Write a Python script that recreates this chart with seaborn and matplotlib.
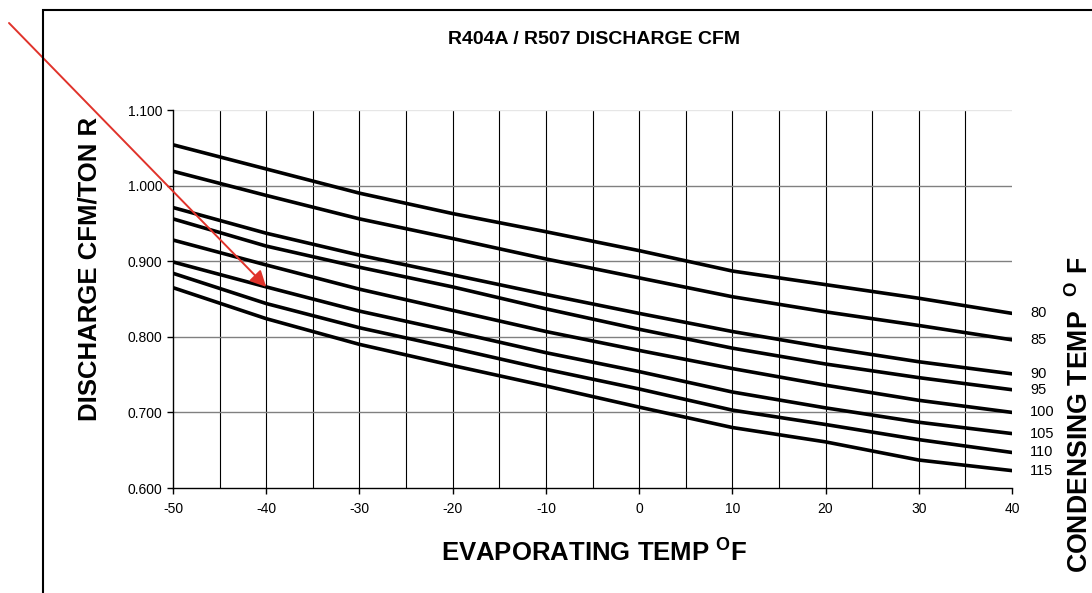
import numpy as np
import pandas as pd
import matplotlib
matplotlib.use("Agg")
import matplotlib.pyplot as plt
import matplotlib.patches as patches
import seaborn as sns

# evaporating temp (F) and discharge CFM/ton per condensing temp
EVAP_TEMP = [-50, -40, -30, -20, -10, 0, 10, 20, 30, 40]
COND_TEMPS = [80, 85, 90, 95, 100, 105, 110, 115]
CFM_80 = [1.054, 1.022, 0.990, 0.963, 0.939, 0.914, 0.887, 0.869, 0.851, 0.831]
CFM_85 = [1.019, 0.987, 0.956, 0.930, 0.903, 0.878, 0.853, 0.833, 0.815, 0.796]
CFM_90 = [0.971, 0.937, 0.908, 0.882, 0.856, 0.831, 0.807, 0.786, 0.767, 0.751]
CFM_95 = [0.956, 0.920, 0.892, 0.866, 0.837, 0.810, 0.785, 0.764, 0.746, 0.730]
CFM_100 = [0.928, 0.895, 0.863, 0.835, 0.807, 0.782, 0.758, 0.736, 0.716, 0.700]
CFM_105 = [0.899, 0.866, 0.834, 0.807, 0.779, 0.754, 0.727, 0.706, 0.687, 0.672]
CFM_110 = [0.884, 0.844, 0.812, 0.785, 0.757, 0.731, 0.703, 0.684, 0.664, 0.647]
CFM_115 = [0.865, 0.824, 0.790, 0.762, 0.735, 0.707, 0.680, 0.661, 0.637, 0.623]
ALL_CFM = [CFM_80, CFM_85, CFM_90, CFM_95, CFM_100, CFM_105, CFM_110, CFM_115]

X_TICKS = [-50, -40, -30, -20, -10, 0, 10, 20, 30, 40]
Y_TICKS = [0.6, 0.7, 0.8, 0.9, 1.0, 1.1]

sns.set_style("white")
plt.rcParams['font.family'] = ['Liberation Sans', 'DejaVu Sans']
plt.rcParams['text.color'] = 'black'
plt.rcParams['axes.unicode_minus'] = False
plt.rcParams['mathtext.fontset'] = 'custom'
plt.rcParams['mathtext.rm'] = 'Liberation Sans:bold'
plt.rcParams['mathtext.bf'] = 'Liberation Sans:bold'

rows = []
for t, vals in zip(COND_TEMPS, ALL_CFM):
    for x, v in zip(EVAP_TEMP, vals):
        rows.append({"evap": x, "cfm": v, "cond": str(t)})
df = pd.DataFrame(rows)

fig = plt.figure(figsize=(10.92, 5.93), dpi=100)
ax = fig.add_axes([173 / 1092, 1 - 488 / 593, (1012 - 173) / 1092, (488 - 110) / 593])

# grid first so curves sit on top
for gx in range(-45, 40, 5):
    ax.axvline(gx, color="black", lw=0.8, zorder=1)
for gy in [0.7, 0.8, 0.9, 1.0]:
    ax.axhline(gy, color="#808080", lw=1.0, zorder=1)
ax.axhline(1.1, color="#e6e6e6", lw=1.0, zorder=1)

sns.lineplot(data=df, x="evap", y="cfm", hue="cond",
             palette=["black"] * len(COND_TEMPS), linewidth=2.6,
             legend=False, ax=ax, zorder=3)

for t, vals in zip(COND_TEMPS, ALL_CFM):
    ax.annotate(str(t), xy=(EVAP_TEMP[-1], vals[-1]), xytext=(13, 0),
                textcoords="offset points", va="center", ha="left",
                fontsize=10.5, color="black", annotation_clip=False)

ax.set_xlim(-50, 40)
ax.set_ylim(0.6, 1.1)
ax.set_xticks(X_TICKS)
ax.set_yticks(Y_TICKS)
ax.set_yticklabels([f"{v:.3f}" for v in Y_TICKS])
ax.tick_params(axis="both", direction="out", length=4, width=1,
               labelsize=10, colors="black", left=True, bottom=True)
ax.tick_params(axis="x", pad=6)
for s in ["top", "right"]:
    ax.spines[s].set_visible(False)
for s in ["left", "bottom"]:
    ax.spines[s].set_color("black")
    ax.spines[s].set_linewidth(1.0)
ax.set_xlabel("")
ax.set_ylabel("")

fig.text(594 / 1092, 1 - 40 / 593, "R404A / R507 DISCHARGE CFM",
         ha="center", va="center", fontsize=14, fontweight="bold")
fig.text(594 / 1092, 1 - 552 / 593, r"EVAPORATING TEMP $^{\mathrm{O}}$F",
         ha="center", va="center", fontsize=18.5, fontweight="bold")
fig.text(90 / 1092, 1 - 269 / 593, "DISCHARGE CFM/TON R", rotation=90,
         ha="center", va="center", fontsize=18.5, fontweight="bold")
fig.text(1080 / 1092, 1 - 256 / 593, r"CONDENSING TEMP  $^{\mathrm{O}}$ F", rotation=90,
         ha="center", va="top", fontsize=19.2, fontweight="bold")

# outer chart frame, cut off at right and bottom
frame = patches.Rectangle((43 / 1092, -0.2), 1.2, 1.2 - 10 / 593,
                          transform=fig.transFigure, fill=False,
                          edgecolor="black", lw=1.5, clip_on=False)
fig.patches.append(frame)

# red pointer arrow
ax.annotate("", xy=(-40, 0.866), xycoords="data",
            xytext=(9 / 1092, 1 - 23 / 593), textcoords="figure fraction",
            arrowprops=dict(arrowstyle="-|>", color="#e0332b", lw=1.4,
                            mutation_scale=24, shrinkA=0, shrinkB=0),
            annotation_clip=False, zorder=5)

fig.savefig("out.png", dpi=100)
